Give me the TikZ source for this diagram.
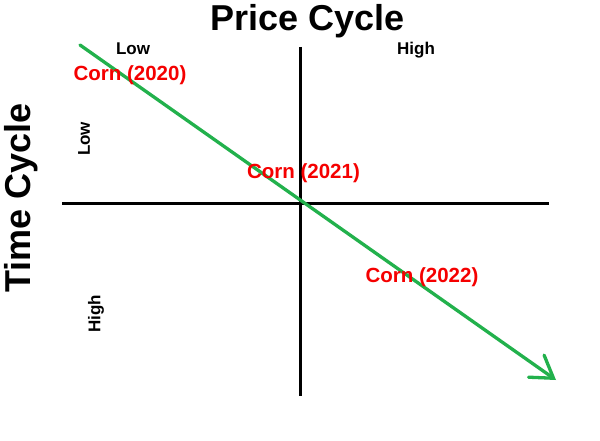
\documentclass[tikz,border=0pt]{standalone}
\usepackage{fontspec}
\setmainfont{Liberation Sans}
\usetikzlibrary{arrows.meta}
\definecolor{pgreen}{RGB}{34,177,76}
\definecolor{pred}{RGB}{245,0,0}
\tikzset{
  axis/.style={line width=3pt},
  bigtitle/.style={font=\fontsize{36}{40}\selectfont\bfseries, inner sep=0pt},
  small/.style={font=\fontsize{17}{19}\selectfont\bfseries, inner sep=0pt},
  corn/.style={font=\fontsize{20.5}{24}\selectfont\bfseries, text=pred, inner sep=0pt},
  trend/.style={pgreen, line width=3.3pt, line cap=round, -{Straight Barb[length=21pt,width=27pt,line cap=round]}}
}
\begin{document}
\begin{tikzpicture}[x=1pt,y=-1pt]
\useasboundingbox (0,0) rectangle (600,441);
\fill[white] (0,0) rectangle (600,441);
% axes
\coordinate (vtop) at (300,47);
\coordinate (vbot) at (300,396);
\coordinate (hl) at (62,203);
\coordinate (hr) at (549,203);
\draw[axis] (vtop) -- (vbot);
\draw[axis] (hl) -- (hr);
% trend arrow
\coordinate (ts) at (80,45);
\coordinate (te) at (556,380);
\draw[trend] (ts) -- (te);
% titles
\node[bigtitle] (pc) at (308,21) {Price Cycle};
\node[bigtitle, rotate=90] (tc) at (21,198) {Time Cycle};
% labels
\node[small] (plow) at (133,49) {Low};
\node[small] (phigh) at (416,50) {High};
\node[small, rotate=90] (tlow) at (84,139) {Low};
\node[small, rotate=90] (thigh) at (96,314) {High};
% corn
\node[corn] (c20) at (130,75) {Corn (2020)};
\node[corn] (c21) at (303.5,173) {Corn (2021)};
\node[corn] (c22) at (422,277) {Corn (2022)};
\end{tikzpicture}
\end{document}
